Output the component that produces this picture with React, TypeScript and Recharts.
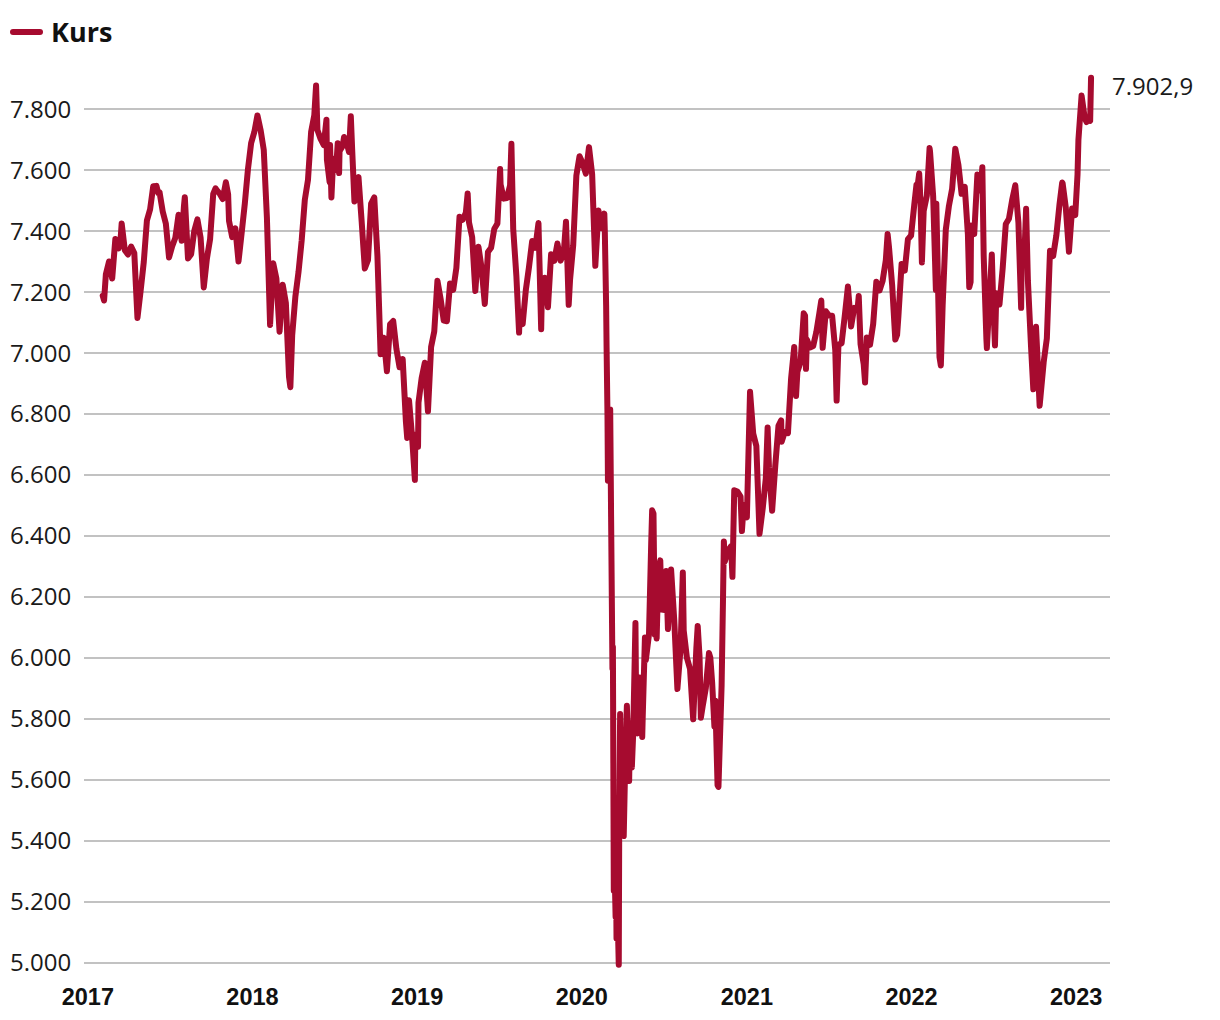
import React from 'react';
import { LineChart, Line, XAxis, YAxis, CartesianGrid } from 'recharts';

const DAY = 86400000;

// first Friday of each weekly block
const weekStarts = ['2017-02-03', '2018-01-05', '2019-01-04', '2020-01-03', '2021-01-01', '2022-01-07', '2023-01-06'];

// weekly closes
const kurs2017 = [
  7188, 7258, 7300, 7244,
  7374, 7343, 7425, 7337, 7323,
  7349, 7328, 7115, 7204,
  7298, 7435, 7471, 7547,
  7548, 7527, 7464, 7424, 7313,
  7350, 7378, 7453, 7368,
  7511, 7310, 7324, 7401,
  7438, 7378, 7215, 7310, 7373,
  7522, 7535, 7523, 7505,
  7560, 7433, 7380, 7409,
  7300, 7394, 7490, 7603, 7688,
];
const kurs2018 = [
  7724, 7779, 7731, 7666,
  7443, 7092, 7294, 7244,
  7070, 7224, 7164, 6922, 7057,
  7184, 7265, 7368, 7502,
  7567, 7725, 7779, 7731,
  7702, 7682, 7634, 7682, 7637,
  7618, 7662, 7679, 7701,
  7659, 7667, 7559, 7577, 7432,
  7277, 7304, 7490, 7510,
  7318, 6996, 7050, 6940,
  7094, 7105, 7014, 6953, 6980,
  6778, 6845, 6721, 6733,
];
const kurs2019 = [
  6837, 6918, 6968, 6809,
  7020, 7071, 7237, 7178,
  7106, 7104, 7228, 7207, 7279,
  7447, 7437, 7460, 7428,
  7380, 7203, 7348, 7277, 7161,
  7331, 7345, 7407, 7425,
  7553, 7506, 7508, 7549,
  7407, 7253, 7117, 7095, 7207,
  7282, 7367, 7345, 7426,
  7155, 7247, 7150, 7324,
  7302, 7359, 7303, 7327, 7347,
  7240, 7353, 7582, 7645,
];
const kurs2020 = [
  7622, 7588, 7675, 7586, 7286,
  7467, 7409, 7404, 6581,
  6463, 5366, 5191, 5510,
  5416, 5843, 5787, 5752,
  5763, 5936, 5800, 5993, 6077,
  6484, 6105, 6292, 6159,
  6157, 6095, 6290, 6124, 5898,
  6032, 6090, 6001, 5964,
  5799, 6032, 6007, 5842,
  5902, 6016, 5920, 5860, 5577,
  5910, 6316, 6351, 6367,
  6550, 6546, 6529, 6502,
];
const kurs2021 = [
  6461, 6873, 6736, 6695, 6407,
  6489, 6589, 6624, 6483,
  6631, 6761, 6709, 6741,
  6737, 6916, 7020, 6938, 6970,
  7130, 7044, 7018, 7023,
  7069, 7134, 7017, 7137,
  7123, 7122, 7008, 7027, 7032,
  7122, 7218, 7087, 7148,
  7138, 7029, 6963, 7051,
  7027, 7095, 7234, 7205, 7237,
  7304, 7348, 7224, 7044,
  7122, 7292, 7270, 7373, 7385,
];
const kurs2022 = [
  7485, 7542, 7494, 7466,
  7516, 7661, 7513, 7489,
  6987, 7156, 7405, 7483,
  7538, 7670, 7616, 7522, 7545,
  7388, 7418, 7390, 7585,
  7533, 7318, 7016, 7208,
  7169, 7196, 7159, 7276, 7423,
  7440, 7501, 7550, 7427,
  7281, 7351, 7237, 7019, 6894,
  6991, 6858, 6970, 7048,
  7335, 7318, 7385, 7487,
  7556, 7477, 7332, 7474, 7452,
];
const kurs2023 = [7699, 7844, 7770, 7765, 7902.9];

const weeklyKurs = [kurs2017, kurs2018, kurs2019, kurs2020, kurs2021, kurs2022, kurs2023];

// intra-week highs and lows visible in the chart
const extraDates = [
  '2017-02-06', '2017-03-14', '2017-06-06', '2017-07-18', '2017-08-02', '2017-10-11', '2017-11-08',
  '2018-03-26', '2018-05-22', '2018-06-14', '2018-06-21', '2018-06-25', '2018-07-02', '2018-07-09', '2018-07-12',
  '2018-07-23', '2018-08-07', '2018-08-15', '2018-12-10', '2018-12-27',
  '2019-01-03', '2019-04-23', '2019-07-04', '2019-07-29', '2019-08-15', '2019-10-03', '2019-11-27', '2019-12-03',
  '2020-02-20', '2020-02-24', '2020-02-25', '2020-02-27', '2020-03-02', '2020-03-04', '2020-03-09', '2020-03-10',
  '2020-03-12', '2020-03-16', '2020-03-17', '2020-03-18', '2020-03-23', '2020-03-24', '2020-03-26', '2020-04-01',
  '2020-04-07', '2020-04-15', '2020-04-21', '2020-04-29', '2020-05-04', '2020-05-14', '2020-05-20', '2020-06-03',
  '2020-06-08', '2020-06-11', '2020-06-15', '2020-06-23', '2020-07-06', '2020-08-12', '2020-09-14', '2020-09-21',
  '2020-10-12', '2020-10-21', '2020-10-28', '2020-11-09', '2020-11-11', '2020-11-30', '2020-12-21',
  '2021-02-16', '2021-03-18', '2021-04-20', '2021-05-10', '2021-05-12', '2021-06-15', '2021-07-19', '2021-09-06',
  '2021-09-20', '2021-11-09', '2021-11-30',
  '2022-01-12', '2022-01-18', '2022-01-24', '2022-02-10', '2022-02-24', '2022-03-07', '2022-05-09', '2022-05-12',
  '2022-06-07', '2022-06-16', '2022-06-28', '2022-07-05', '2022-08-17', '2022-09-01', '2022-09-12', '2022-09-28',
  '2022-10-04', '2022-10-12', '2022-12-01',
  '2023-01-04', '2023-01-24', '2023-02-01',
];
const extraValues = [
  7172, 7360, 7525, 7420, 7480, 7540, 7520,
  6888, 7877, 7765, 7560, 7510, 7600, 7688, 7590,
  7708, 7776, 7497, 6721, 6584,
  6692, 7523, 7603, 7686, 7067, 7078, 7430, 7158,
  7457, 7157, 7018, 6796, 6654, 6815, 5965, 6036,
  5237, 5151, 5294, 5080, 4994, 5446, 5816, 5454,
  5704, 5597, 5641, 6115, 5753, 5741, 6067, 6382,
  6473, 6076, 6064, 6320, 6285, 6280, 6105, 5804,
  6001, 5776, 5583, 6186, 6382, 6266, 6416,
  6756, 6779, 6859, 7123, 6948, 7172, 6844, 7187,
  6903, 7390, 7059,
  7552, 7589, 7297, 7672, 7207, 6959, 7216, 7233,
  7609, 7045, 7323, 7025, 7536, 7148, 7473, 6881,
  7086, 6827, 7559,
  7585, 7757, 7761,
];

const yearTicks = [2017, 2018, 2019, 2020, 2021, 2022, 2023];
const kursTicks = [5000, 5200, 5400, 5600, 5800, 6000, 6200, 6400, 6600, 6800, 7000, 7200, 7400, 7600, 7800];

const RED = '#a60b2f';

const data: { t: number; kurs: number }[] = [];
weeklyKurs.forEach((arr, k) => {
  const start = Date.parse(weekStarts[k]);
  arr.forEach((v, i) => data.push({ t: start + i * 7 * DAY, kurs: v }));
});
extraDates.forEach((d, i) => data.push({ t: Date.parse(d), kurs: extraValues[i] }));
data.sort((a, b) => a.t - b.t);

const fmt = (v: number, digits = 0) => {
  const fixed = v.toFixed(digits);
  const [int, dec] = fixed.split('.');
  const grouped = int.replace(/\B(?=(\d{3})+(?!\d))/g, '.');
  return dec ? `${grouped},${dec}` : grouped;
};

const YTick = ({ y, payload }: any) => (
  <text x={10} y={y} dy={8.5} textAnchor="start" fontFamily="Open Sans" fontSize={24} fill="#1a1a1a">
    {fmt(payload.value)}
  </text>
);

const XTick = ({ x, y, payload }: any) => (
  <text x={x} y={y} dy={38.5} textAnchor="middle" fontFamily="Liberation Sans, Arial" fontWeight={700} fontSize={23.5} fill="#111">
    {new Date(payload.value).getUTCFullYear()}
  </text>
);

const lastIndex = data.length - 1;
const EndLabel = (props: any) => {
  if (props.index !== lastIndex) return <g />;
  return (
    <text x={props.x + 21} y={props.y} dy={17} textAnchor="start" fontFamily="Open Sans" fontSize={24} fill="#1a1a1a">
      {fmt(props.value, 1)}
    </text>
  );
};

const App: React.FC = () => {
  return (
    <div style={{ position: 'absolute', left: 0, top: 0, width: 1220, height: 1020, background: '#fff' }}>
      <svg width={200} height={60} style={{ position: 'absolute', left: 0, top: 0 }}>
        <line x1={13} x2={40} y1={32} y2={32} stroke={RED} strokeWidth={6} strokeLinecap="round" />
        <text x={51} y={41.5} fontFamily="Open Sans" fontWeight={700} fontSize={27} fill="#111">Kurs</text>
      </svg>
      <LineChart
        width={1220}
        height={1020}
        data={data}
        margin={{ top: 77.6, right: 110, left: 0, bottom: 0 }}
      >
        <CartesianGrid vertical={false} horizontalValues={kursTicks} stroke="#c2c2c2" strokeWidth={2} />
        <XAxis
          dataKey="t"
          type="number"
          scale="linear"
          domain={[Date.UTC(2016, 11, 23, 12), Date.UTC(2023, 2, 17)]}
          ticks={yearTicks.map((yr) => Date.UTC(yr, 0, 1))}
          tick={<XTick />}
          axisLine={false}
          tickLine={false}
          tickSize={0}
          height={55.2}
        />
        <YAxis
          type="number"
          domain={[4994, 7903]}
          ticks={kursTicks}
          tick={<YTick />}
          axisLine={false}
          tickLine={false}
          tickSize={0}
          width={84}
        />
        <Line
          type="linear"
          dataKey="kurs"
          stroke={RED}
          strokeWidth={6}
          strokeLinejoin="round"
          strokeLinecap="round"
          dot={false}
          label={EndLabel}
          isAnimationActive={false}
        />
      </LineChart>
    </div>
  );
};

export default App;
